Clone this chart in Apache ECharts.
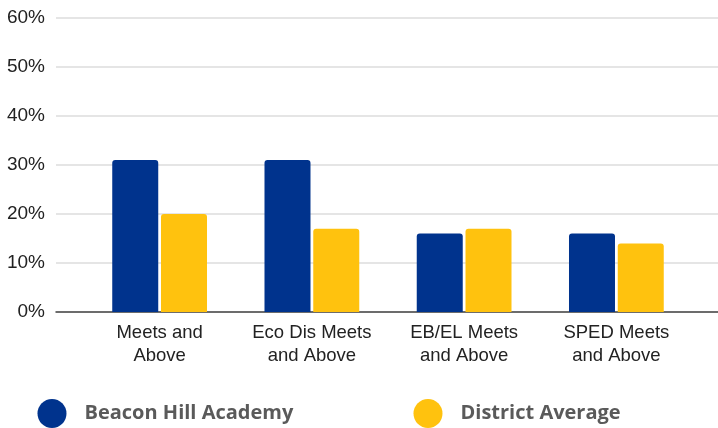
<!DOCTYPE html>
<html><head><meta charset="utf-8">
<script src="https://cdn.jsdelivr.net/npm/echarts@6/dist/echarts.min.js"></script>
<style>html,body{margin:0;padding:0;background:#fff}#c{width:718px;height:428px}</style>
</head><body><div id="c"></div>
<script>
var categories = ['Meets and\nAbove', 'Eco Dis Meets\nand Above', 'EB/EL Meets\nand Above', 'SPED Meets\nand Above'];
var beaconHill = [31, 31, 16, 16];
var districtAvg = [20, 17, 17, 14];
var yTicks = [0, 10, 20, 30, 40, 50, 60];

var chart = echarts.init(document.getElementById('c'));
var legendText = {fontFamily: 'Open Sans', fontWeight: 'bold', fontSize: 20, color: '#5a5a5a', padding: [4, 0, 0, 13]};
chart.setOption({
  animation: false,
  grid: [
    {left: 56, right: 0, top: 18, bottom: 116},
    {left: 83.5, right: 25.5, top: 18, bottom: 116}
  ],
  xAxis: [
    {type: 'value', gridIndex: 0, min: 0, max: 1, axisLine: {show: true, onZero: false, lineStyle: {color: '#444', width: 1.5}},
     axisTick: {show: false}, axisLabel: {show: false}, splitLine: {show: false}},
    {type: 'category', gridIndex: 1, data: categories, axisLine: {show: false}, axisTick: {show: false},
     axisLabel: {interval: 0, fontFamily: 'Liberation Sans', fontSize: 18.5, color: '#222', lineHeight: 23, margin: 9}}
  ],
  yAxis: [
    {type: 'value', gridIndex: 0, min: yTicks[0], max: yTicks[yTicks.length - 1], interval: 10,
     axisLine: {show: false}, axisTick: {show: false},
     axisLabel: {formatter: '{value}%', fontFamily: 'Liberation Sans', fontSize: 19, color: '#222', margin: 11},
     splitLine: {lineStyle: {color: '#dcdcdc', width: 1.5}}},
    {type: 'value', gridIndex: 1, min: yTicks[0], max: yTicks[yTicks.length - 1], interval: 10,
     axisLine: {show: false}, axisTick: {show: false}, axisLabel: {show: false}, splitLine: {show: false}}
  ],
  legend: [
    {data: ['Beacon Hill Academy'], left: 37.5, top: 399, padding: 0, icon: 'circle', itemWidth: 29, itemHeight: 29, textStyle: legendText},
    {data: ['District Average'], left: 413.5, top: 399, padding: 0, icon: 'circle', itemWidth: 29, itemHeight: 29, textStyle: legendText}
  ],
  series: [
    {name: 'Beacon Hill Academy', type: 'bar', xAxisIndex: 1, yAxisIndex: 1, data: beaconHill,
     barWidth: 46, barGap: '6%', itemStyle: {color: '#00338D', borderRadius: [3, 3, 0, 0]}},
    {name: 'District Average', type: 'bar', xAxisIndex: 1, yAxisIndex: 1, data: districtAvg,
     barWidth: 46, barGap: '6%', itemStyle: {color: '#FFC20E', borderRadius: [3, 3, 0, 0]}}
  ]
});
</script></body></html>
